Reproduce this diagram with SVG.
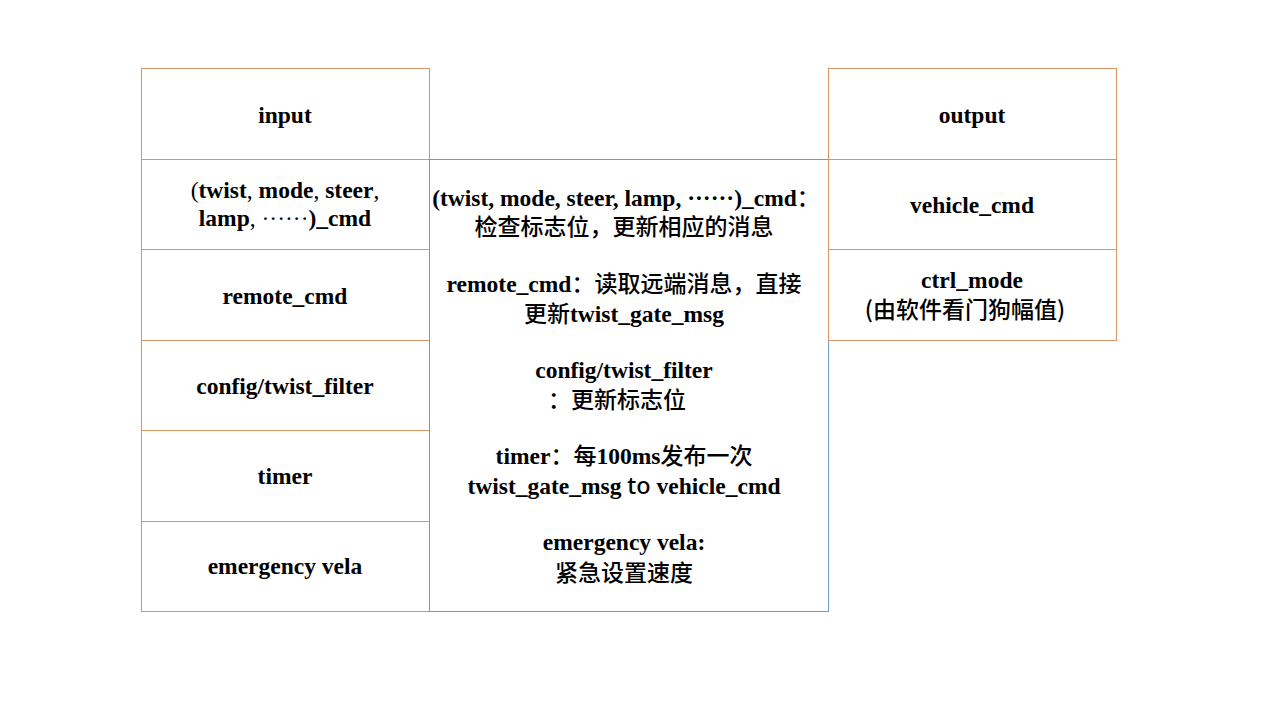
<svg xmlns="http://www.w3.org/2000/svg" width="1280" height="720" viewBox="0 0 1280 720">
<style>
.o{fill:#fff;stroke:#dd9566;stroke-width:1}
.b{fill:#fff;stroke:#6f9cc6;stroke-width:1}
text{font-family:"Liberation Serif","Noto Serif CJK SC","Noto Sans CJK SC",serif;font-size:23.5px;font-weight:bold;text-anchor:middle;fill:#000}
.c{font-family:"Noto Sans CJK SC","Noto Sans",sans-serif;font-weight:500;font-size:23px}
.n{font-weight:normal}
.s{font-family:"Noto Sans","Liberation Sans",sans-serif;font-weight:500}
</style>
<rect width="1280" height="720" fill="#fff"/>
<g id="input">
<rect class="o" x="141.5" y="68.5" width="288" height="91"/>
<text x="285" y="123">input</text>
</g>
<g id="twist_cmd">
<rect class="o" x="141.5" y="159.5" width="288" height="90"/>
<text x="285" y="198"><tspan class="n">(</tspan>twist<tspan class="n">,</tspan> mode<tspan class="n">,</tspan> steer<tspan class="n">,</tspan></text>
<text x="285" y="226">lamp<tspan class="n">, ······</tspan>)_cmd</text>
</g>
<g id="remote_cmd">
<rect class="o" x="141.5" y="249.5" width="288" height="91"/>
<text x="285" y="304">remote_cmd</text>
</g>
<g id="config">
<rect class="o" x="141.5" y="340.5" width="288" height="90"/>
<text x="285" y="394">config/twist_filter</text>
</g>
<g id="timer">
<rect class="o" x="141.5" y="430.5" width="288" height="91"/>
<text x="285" y="484">timer</text>
</g>
<g id="emergency">
<rect class="o" x="141.5" y="521.5" width="288" height="90"/>
<text x="285" y="574">emergency vela</text>
</g>
<g id="center">
<rect class="b" x="429.5" y="159.5" width="399" height="452"/>
<text x="626" y="206">(twist, mode, steer, lamp, ······)_cmd<tspan class="c">：</tspan></text>
<text x="624" y="235" class="c">检查标志位，更新相应的消息</text>
<text x="624" y="292">remote_cmd<tspan class="c">：读取远端消息，直接</tspan></text>
<text x="624" y="322"><tspan class="c">更新</tspan>twist_gate_msg</text>
<text x="624" y="378">config/twist_filter</text>
<text x="617" y="408" class="c">：更新标志位</text>
<text x="624" y="464">timer<tspan class="c">：每</tspan>100ms<tspan class="c">发布一次</tspan></text>
<text x="624" y="494">twist_gate_msg <tspan class="s">to</tspan> vehicle_cmd</text>
<text x="624" y="550">emergency vela:</text>
<text x="624" y="581" class="c">紧急设置速度</text>
</g>
<g id="output">
<rect class="o" x="828.5" y="68.5" width="288" height="91"/>
<text x="972" y="123">output</text>
</g>
<g id="vehicle_cmd">
<rect class="o" x="828.5" y="159.5" width="288" height="90"/>
<text x="972" y="213">vehicle_cmd</text>
</g>
<g id="ctrl_mode">
<rect class="o" x="828.5" y="249.5" width="288" height="91"/>
<text x="972" y="288">ctrl_mode</text>
<text x="965" y="318" class="c">(由软件看门狗幅值)</text>
</g>
<g id="connectors"></g>
</svg>
